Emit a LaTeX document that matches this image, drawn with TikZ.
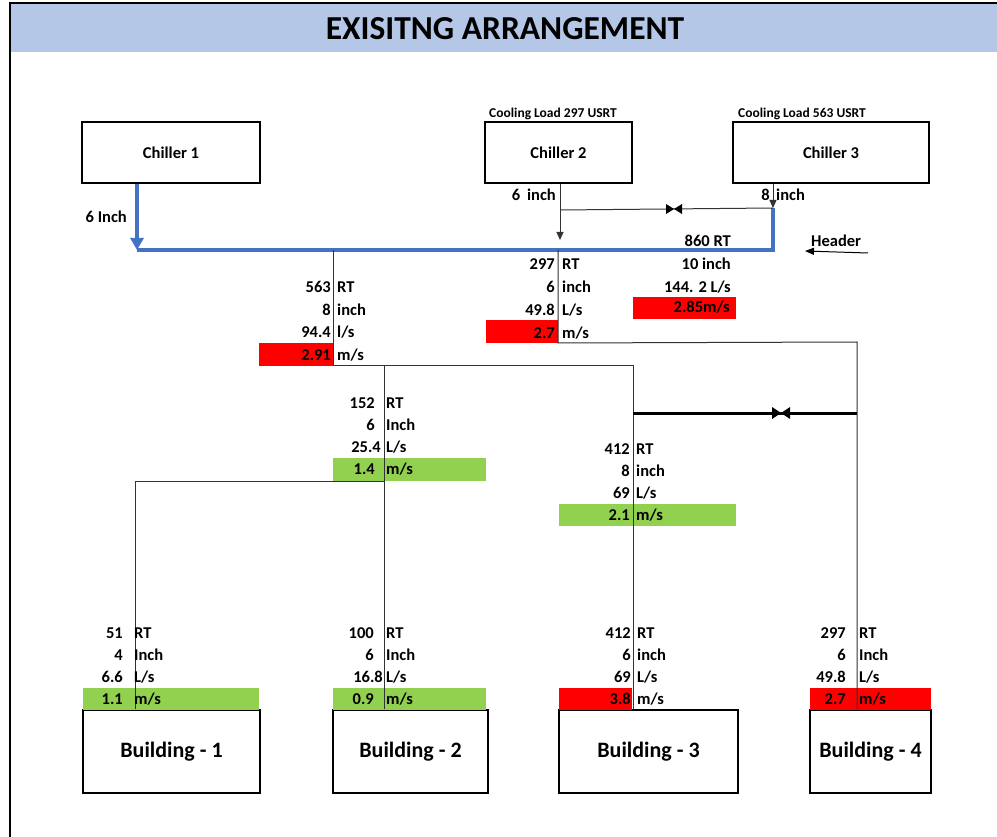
\documentclass[tikz,border=0pt]{standalone}
\usepackage{fontspec}
\setmainfont{Carlito}
\usetikzlibrary{arrows.meta,positioning,calc}

\definecolor{pipeblue}{HTML}{4472C4}
\definecolor{bandblue}{HTML}{B4C7E7}
\definecolor{velred}{HTML}{FF0000}
\definecolor{velgreen}{HTML}{92D050}

\tikzset{
  unitbox/.style={draw, line width=2pt, inner sep=0pt, minimum height=61pt,
    font=\bfseries\fontsize{16.5}{20}\selectfont},
  bldbox/.style={draw, line width=2pt, inner sep=0pt, minimum height=83pt,
    font=\bfseries\fontsize{22}{26}\selectfont},
  valnum/.style={anchor=base east, inner sep=0pt},
  valunit/.style={anchor=base west, inner sep=0pt},
  pipe/.style={line width=1pt, black!80},
  bluepipe/.style={line width=4pt, pipeblue},
  smalltip/.style={-{Triangle[width=7pt,length=8pt]}},
}

\begin{document}
\begin{tikzpicture}[x=1pt,y=-1pt,font=\bfseries\fontsize{16.5}{19}\selectfont]

	\useasboundingbox (0,0) rectangle (997,837);

	% frame and title band
	\fill[bandblue] (11,4) rectangle (997,52);
	\draw[line width=2pt] (10,837) -- (10,3) -- (997,3);
	\node[font=\bfseries\fontsize{33.5}{38}\selectfont] (title)
	at (505,28.5) {EXISITNG ARRANGEMENT};

	% chillers
	\node[unitbox, minimum width=178pt] (ch1) at (171,152.5) {Chiller 1};
	\node[unitbox, minimum width=147pt] (ch2) at (558.5,152.5) {Chiller 2};
	\node[unitbox, minimum width=196pt] (ch3) at (831,152.5) {Chiller 3};

	\node[anchor=base west, inner sep=0pt, font=\bfseries\fontsize{13.5}{16}\selectfont]
	(load2) at (489,118) {Cooling Load 297 USRT};
	\node[anchor=base west, inner sep=0pt, font=\bfseries\fontsize{13.5}{16}\selectfont]
	(load3) at (738,118) {Cooling Load 563 USRT};

	% buildings
	\node[bldbox, minimum width=177pt] (b1) at (171.5,751.5) {Building - 1};
	\node[bldbox, minimum width=155pt] (b2) at (410.5,751.5) {Building - 2};
	\node[bldbox, minimum width=179pt] (b3) at (648.5,751.5) {Building - 3};
	\node[bldbox, minimum width=121pt] (b4) at (870.5,751.5) {Building - 4};

	% velocity cells
	\fill[velred] (259,343) rectangle (333,366);
	\fill[velred] (486,320) rectangle (558,343);
	\fill[velred] (633,297) rectangle (736,319);
	\fill[velgreen] (333,458) rectangle (486,481);
	\fill[velgreen] (559,504) rectangle (736,526);
	\fill[velgreen] (83,688) rectangle (259,710);
	\fill[velgreen] (333,688) rectangle (486,710);
	\fill[velred] (559,688) rectangle (632,710);
	\fill[velred] (810,688) rectangle (931,710);

	% junctions
	\coordinate (h1) at (137,250);
	\coordinate (h3) at (773,250);
	\coordinate (c3v) at (773,208);
	\coordinate (c2t) at (560,210);
	\coordinate (c2a) at (560,240);
	\coordinate (v1) at (674,209);
	\coordinate (ja) at (333,250);
	\coordinate (ja2) at (333,366);
	\coordinate (jd) at (384,366);
	\coordinate (je) at (633,366);
	\coordinate (jb) at (558,250);
	\coordinate (jb2) at (558,343);
	\coordinate (jf) at (857,342);
	\coordinate (jd2) at (384,481);
	\coordinate (jg) at (135,481);
	\coordinate (ve1) at (633,413);
	\coordinate (ve2) at (857,413);
	\coordinate (v2) at (781,413);
	\coordinate (hdA) at (868,253);
	\coordinate (hdB) at (805,251);

	% header
	\draw[bluepipe] (c3v) -- (h3) -- (h1);
	\draw[bluepipe, -{Triangle[width=13pt,length=12pt]}] (ch1.south -| h1) -- (h1);
	\draw[pipe, smalltip] (ch2.south -| c2t) -- (c2a);
	\draw[pipe, smalltip] (ch3.south -| c3v) -- (c3v);
	\draw[pipe] (c2t) -- (c3v);
	\fill (v1) -- ++(-8,-5) -- ++(0,10) -- cycle;
	\fill (v1) -- ++(8,-5) -- ++(0,10) -- cycle;
	\draw[line width=1pt, -{Triangle[width=7pt,length=9pt]}] (hdA) -- (hdB);
	\node[anchor=base west, inner sep=0pt] (hdr) at (811,247) {Header};

	% distribution lines
	\draw[pipe] (ja) -- (ja2) -- (je) -- (je |- b3.north);
	\draw[pipe] (jd) -- (jd |- b2.north);
	\draw[pipe] (jb) -- (jb2) -- (jf) -- (jf |- b4.north);
	\draw[pipe] (jd2) -- (jg) -- (jg |- b1.north);
	\draw[line width=3pt] (ve1) -- (ve2);
	\fill (v2) -- ++(-9,-6) -- ++(0,12) -- cycle;
	\fill (v2) -- ++(9,-6) -- ++(0,12) -- cycle;

	% pipe sizes
	\node[anchor=base east, inner sep=0pt] (s1) at (127,223) {6 Inch};
	\node[anchor=base east, inner sep=0pt] (s2) at (556,201) {6\hspace{7pt}inch};
	\node[valnum] (s3n) at (770,201) {8};
	\node[valunit] (s3u) at (776,201) {inch};

	\node[valnum] (c1) at (731,247) {860 RT};
	\node[valnum] (c2) at (731,270) {10 inch};
	\node[valnum] (c3) at (731,293) {144. 2 L/s};
	\node[valnum] (c4) at (730,313) {2.85m/s};

	% flow data
	\foreach \val/\unt [count=\i] in {563/RT,8/inch,94.4/{l/s},2.91/{m/s}}{
		\node[valnum] (a\i) at (331,{293+(\i-1)*22.4}) {\val};
		\node[valunit] (au\i) at (337,{293+(\i-1)*22.4}) {\unt};
	}
	\foreach \val/\unt [count=\i] in {297/RT,6/inch,49.8/{L/s},2.7/{m/s}}{
		\node[valnum] (b\i) at (555,{270+(\i-1)*22.7}) {\val};
		\node[valunit] (bu\i) at (562,{270+(\i-1)*22.7}) {\unt};
	}
	\foreach \nx/\val/\unt [count=\i] in {375/152/RT,375/6/Inch,381/25.4/{L/s},375/1.4/{m/s}}{
		\node[valnum] (d\i) at (\nx,{408+(\i-1)*22.1}) {\val};
		\node[valunit] (du\i) at (386,{408+(\i-1)*22.1}) {\unt};
	}
	\foreach \val/\unt [count=\i] in {412/RT,8/inch,69/{L/s},2.1/{m/s}}{
		\node[valnum] (e\i) at (630,{454+(\i-1)*22.2}) {\val};
		\node[valunit] (eu\i) at (636,{454+(\i-1)*22.2}) {\unt};
	}

	% building branches
	\foreach \val/\unt [count=\i] in {51/RT,4/Inch,6.6/{L/s},1.1/{m/s}}{
		\node[valnum] (f\i) at (123,{638+(\i-1)*22}) {\val};
		\node[valunit] (fu\i) at (134,{638+(\i-1)*22}) {\unt};
	}
	\foreach \nx/\val/\unt [count=\i] in {374/100/RT,374/6/Inch,383/16.8/{L/s},374/0.9/{m/s}}{
		\node[valnum] (g\i) at (\nx,{638+(\i-1)*22}) {\val};
		\node[valunit] (gu\i) at (386,{638+(\i-1)*22}) {\unt};
	}
	\foreach \val/\unt [count=\i] in {412/RT,6/inch,69/{L/s},3.8/{m/s}}{
		\node[valnum] (k\i) at (631,{638+(\i-1)*22}) {\val};
		\node[valunit] (ku\i) at (637,{638+(\i-1)*22}) {\unt};
	}
	\foreach \val/\unt [count=\i] in {297/RT,6/Inch,49.8/{L/s},2.7/{m/s}}{
		\node[valnum] (m\i) at (846,{638+(\i-1)*22}) {\val};
		\node[valunit] (mu\i) at (859,{638+(\i-1)*22}) {\unt};
	}

\end{tikzpicture}
\end{document}
